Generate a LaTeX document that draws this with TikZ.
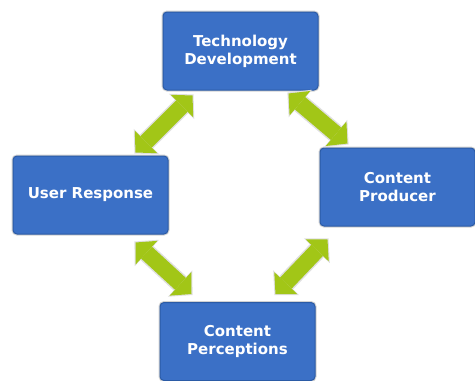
\documentclass[tikz,border=0pt]{standalone}
\usepackage{fontspec}
\setmainfont{DejaVu Sans}
\usetikzlibrary{arrows.meta}
\definecolor{boxblue}{HTML}{3B70C6}
\definecolor{boxedge}{HTML}{2B5BA6}
\definecolor{arrowgreen}{HTML}{A2C617}
\begin{document}
\begin{tikzpicture}[x=1pt,y=-1pt,
    stage/.style={draw=boxedge, line width=1pt, fill=boxblue, rounded corners=4pt,
        minimum width=155pt, minimum height=78pt, text=white, align=center,
        font=\bfseries\fontsize{15}{18}\selectfont,
        preaction={draw=gray!35, line width=3pt}},
    link/.style={draw=arrowgreen, line width=16pt,
        {Triangle[length=15pt,width=32pt,line width'=0pt]}-{Triangle[length=15pt,width=32pt,line width'=0pt]},
        preaction={draw=gray!25, line width=19pt, shorten <=-1.5pt, shorten >=-1.5pt,
            arrows={Triangle[length=17pt,width=36pt,line width'=0pt]-Triangle[length=17pt,width=36pt,line width'=0pt]}}}]
    \useasboundingbox (0,0) rectangle (475,381);
    \node[stage] at (240.5,51) (tdev) {Technology\\Development};
    \node[stage] at (90.5,195) (usr) {User Response};
    \node[stage] at (397.5,187) (prod) {Content\\Producer};
    \node[stage] at (237.5,341.5) (perc) {Content\\Perceptions};
    \draw[link] ([xshift=30pt,yshift=-5pt]tdev.south west) -- ([xshift=-33pt,yshift=3pt]usr.north east);
    \draw[link] ([xshift=-30pt,yshift=-3pt]tdev.south east) -- ([xshift=28pt,yshift=4pt]prod.north west);
    \draw[link] ([xshift=-33pt,yshift=-8pt]usr.south east) -- ([xshift=32pt,yshift=8pt]perc.north west);
    \draw[link] ([xshift=8pt,yshift=-13pt]prod.south west) -- ([xshift=-40pt,yshift=8pt]perc.north east);
\end{tikzpicture}
\end{document}
